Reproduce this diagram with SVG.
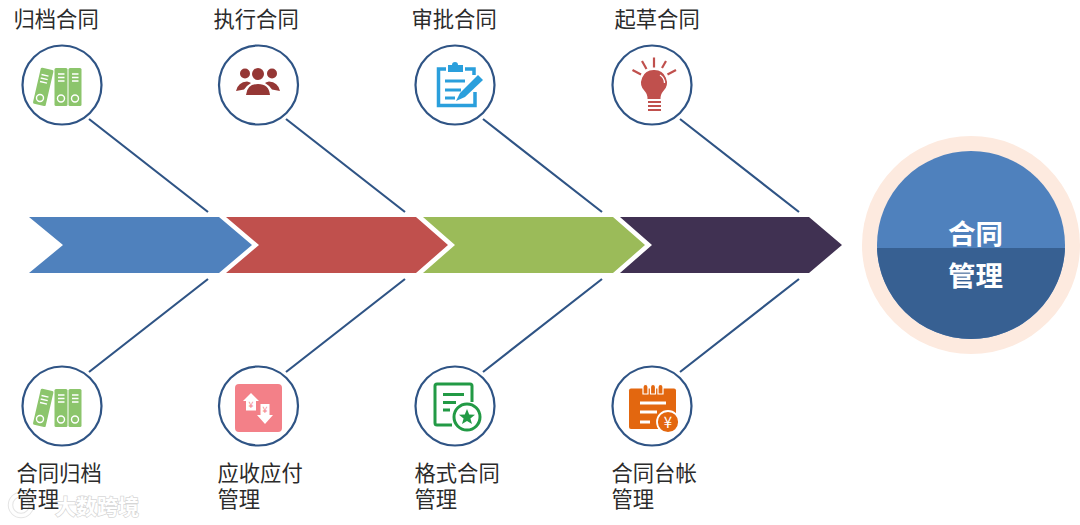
<svg xmlns="http://www.w3.org/2000/svg" width="1080" height="525" viewBox="0 0 1080 525">
<style>
text{font-family:"Noto Sans CJK SC","Noto Sans",sans-serif}
.lb{font-size:21.3px;fill:#2b2b2b}
.ring{fill:#fff;stroke:#2f5485;stroke-width:2.2}
.c{stroke:#2f5485;stroke-width:2.2;fill:none}
.hub{font-size:27.5px;font-weight:700;fill:#fff;text-anchor:middle}
.gf{fill:#8cc56c}
.wl{stroke:#fff;stroke-width:1.4;fill:none}
</style>
<defs>
<g id="binders">
<g class="gf"><rect x="-9" y="-17" width="13" height="37" rx="1.5" transform="translate(-16 1) rotate(13)"/><rect x="-7.500" y="-17" width="13" height="38" rx="1.500"/><rect x="6.500" y="-17" width="13" height="38" rx="1.500"/></g>
<g class="wl"><path d="M-4-11h6.500M-4-7.500h6.500M-4-4h6.500M10-11h6.500M10-7.500h6.500M10-4h6.500M-20.500-10.500l7 1.600M-21.300-7l7 1.600M-22-3.500l7 1.600"/><circle cx="-1" cy="13.500" r="3.500"/><circle cx="13" cy="13.500" r="3.500"/><circle cx="-22" cy="13" r="3.500"/></g>
</g>
</defs>
<g id="watermark">
<circle cx="21" cy="505" r="10.500" fill="none" stroke="#bbb" stroke-width="5.500" opacity="0.400"/>
<circle cx="21" cy="505" r="10.500" fill="none" stroke="#fff" stroke-width="3.500" opacity="0.950"/>
<text x="55" y="514" font-size="21" font-weight="700" fill="#fff" stroke="#bbb" stroke-width="1.500" stroke-opacity="0.600" paint-order="stroke">大数跨境</text>
</g>
<g id="connectors">
<path class="c" d="M89 119L208 212M286 119L405 212M483 119L602 212M680 119L799 212M89 372L208 279M286 372L405 279M483 372L602 279M680 372L799 279"/>
</g>
<g id="spine">
<path fill="#4f81bd" d="M29 217H219L252 245L219 273H29L63 245Z"/>
<path fill="#c0504d" d="M226 217H416L448 245L416 273H226L259 245Z"/>
<path fill="#9bbb59" d="M423 217H613L645 245L613 273H423L455 245Z"/>
<path fill="#403152" d="M620 217H809L842 245L809 273H620L652 245Z"/>
</g>
<g id="hub">
<circle cx="971" cy="245" r="109" fill="#fdeadf"/>
<circle cx="971" cy="245" r="94" fill="#4f81bd"/>
<path fill="#376092" d="M877.050 248H1064.950A94 94 0 0 1 877.050 248Z"/>
<text class="hub" x="975.500" y="243.500">合同</text>
<text class="hub" x="975.500" y="285.500">管理</text>
</g>
<g id="n-archive-top">
<circle class="ring" cx="62" cy="85" r="39.500"/>
<use href="#binders" x="62" y="85"/>
<text class="lb" x="13.500" y="27">归档合同</text>
</g>
<g id="n-exec">
<circle class="ring" cx="258.500" cy="85" r="39.500"/>
<g fill="#953735">
<circle cx="245" cy="73.500" r="5"/><circle cx="258" cy="74" r="6"/><circle cx="272" cy="73.500" r="5"/>
<path d="M236 91Q238 82 247 81.500Q250 82 251 83Q246 86 244 89.500Z"/><path d="M280 91Q278 82 269 81.500Q266 82 265 83Q270 86 272 89.500Z"/><path d="M246 95Q247 84 258 84Q269 84 270 95Z"/>
</g>
<text class="lb" x="213.500" y="27">执行合同</text>
</g>
<g id="n-approve">
<circle class="ring" cx="455" cy="85" r="39.500"/>
<g fill="none" stroke="#2a9fdc" stroke-width="3.500">
<path d="M446 69H438.500V105.500H475V92M465 69H474V75"/>
<path d="M445 81H465M445 90H461M445 98H455" stroke-width="3.200"/>
</g>
<path fill="#2a9fdc" d="M448 65H452A3 3 0 0 1 458 65H463V72H448Z"/>
<path fill="#2a9fdc" d="M478 75L483 80L465 97L456 101L460 93Z"/>
<text class="lb" x="411.500" y="27">审批合同</text>
</g>
<g id="n-draft">
<circle class="ring" cx="652" cy="85" r="39.500"/>
<path fill="#c0504d" d="M654 70A12.500 12.500 0 0 1 663 91.500Q660.500 94 660.500 99H647.500Q647.500 94 645 91.500A12.500 12.500 0 0 1 654 70Z"/>
<path d="M660 75Q664.500 78 664.500 83" stroke="#fff" stroke-width="1.300" fill="none"/>
<path stroke="#c0504d" stroke-width="2.200" d="M648 102H661M648 106H661M648 110H661M654 57.500V67.500M642 61L646.500 69M666 61L662 68M632.500 70L641 74.500M676 70L667.500 74.500"/>
<text class="lb" x="614.500" y="27">起草合同</text>
</g>
<g id="n-archive">
<circle class="ring" cx="62" cy="406" r="39.500"/>
<use href="#binders" x="62" y="406"/>
<text class="lb" y="481"><tspan x="16.500">合同归档</tspan><tspan x="16.500" y="507">管理</tspan></text>
</g>
<g id="n-ar">
<circle class="ring" cx="258.500" cy="406" r="39.500"/>
<rect x="235" y="384" width="47" height="48" rx="4" fill="#f38088"/>
<path fill="#fff" d="M251 393L259 401H256V410.500H246V401H243Z"/>
<path fill="#fff" d="M265 424L273 415H269.500V404H260.500V415H257Z"/>
<text x="251" y="408" font-size="9" fill="#f38088" text-anchor="middle" font-family="Liberation Sans,sans-serif">¥</text>
<text x="265" y="413" font-size="9" fill="#f38088" text-anchor="middle" font-family="Liberation Sans,sans-serif">¥</text>
<text class="lb" y="481"><tspan x="217.500">应收应付</tspan><tspan x="217.500" y="507">管理</tspan></text>
</g>
<g id="n-format">
<circle class="ring" cx="455" cy="406" r="39.500"/>
<path fill="none" stroke="#229a45" stroke-width="3" d="M452 425H437A2 2 0 0 1 435 423V386A2 2 0 0 1 437 384H470A2 2 0 0 1 472 386V402"/>
<path stroke="#229a45" stroke-width="2.800" d="M443 394.500H464M443 402.500H456M443 410H450"/>
<circle cx="467" cy="417" r="13" fill="#fff" stroke="#229a45" stroke-width="3"/>
<path fill="#229a45" d="M467 409L469.200 414.500L475 414.800L470.400 418.500L472 424L467 421L462 424L463.600 418.500L459 414.800L464.800 414.500Z"/>
<text class="lb" y="481"><tspan x="414.500">格式合同</tspan><tspan x="414.500" y="507">管理</tspan></text>
</g>
<g id="n-ledger">
<circle class="ring" cx="652" cy="406" r="39.500"/>
<rect x="629" y="388.500" width="47" height="40.500" rx="2" fill="#e3670f"/>
<path fill="#e3670f" stroke="#fff" stroke-width="1.200" d="M643 394V387A2.500 2.500 0 0 1 648 387V394ZM650.500 394V387A2.500 2.500 0 0 1 655.500 387V394ZM658 394V387A2.500 2.500 0 0 1 663 387V394Z"/>
<path stroke="#fff" stroke-width="2.800" d="M640 403H666M640 412H657M640 422H650"/>
<circle cx="668" cy="422" r="11" fill="#e3670f" stroke="#fff" stroke-width="1.800"/>
<text x="668" y="428" font-size="15" fill="#fff" text-anchor="middle" font-family="Liberation Sans,sans-serif">¥</text>
<text class="lb" y="481"><tspan x="611.500">合同台帐</tspan><tspan x="611.500" y="507">管理</tspan></text>
</g>
</svg>
